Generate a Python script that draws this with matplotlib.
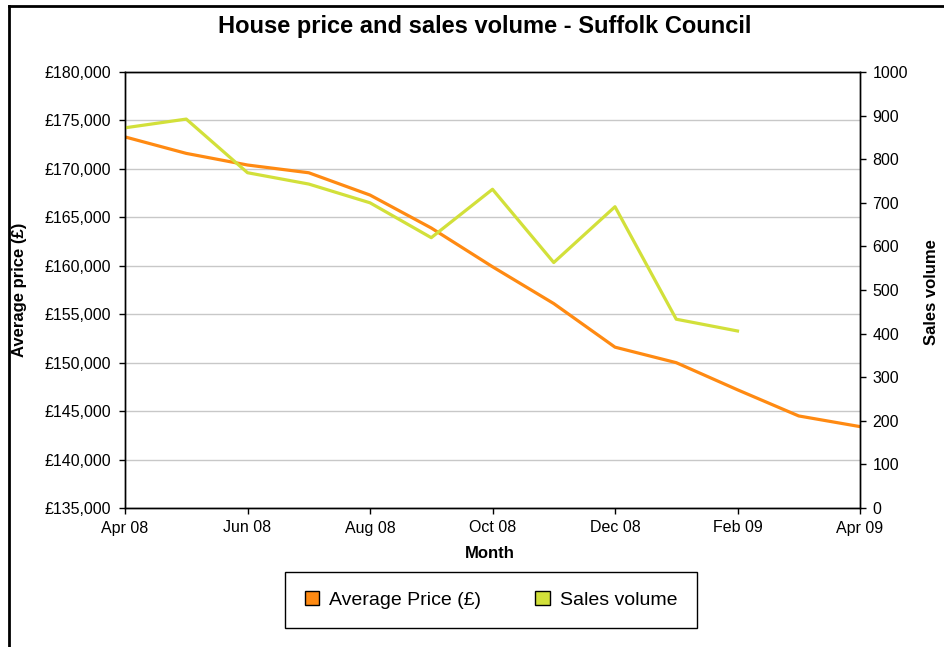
import matplotlib
matplotlib.use("Agg")
import matplotlib.pyplot as plt
from matplotlib.patches import Patch
from matplotlib.ticker import FuncFormatter, MultipleLocator

plt.rcParams["font.family"] = ["Liberation Sans", "DejaVu Sans"]

# Данные графика
months = ["Apr 08", "May 08", "Jun 08", "Jul 08", "Aug 08", "Sep 08", "Oct 08",
          "Nov 08", "Dec 08", "Jan 09", "Feb 09", "Mar 09", "Apr 09"]
avg_price = [173300, 171600, 170400, 169600, 167300, 163900, 159900,
             156100, 151600, 150000, 147200, 144500, 143400]
sales_volume = [872, 892, 769, 743, 700, 620, 731, 563, 691, 433, 406]
tick_labels = months[::2]

ORANGE = "#ff8a12"
GREEN = "#d2e03a"

W, H = 944, 647
fig = plt.figure(figsize=(W / 100, H / 100), dpi=100)
ax = fig.add_axes([125 / W, 1 - 508 / H, 735 / W, 436 / H])
ax2 = ax.twinx()

x = list(range(len(months)))
ax.plot(x, avg_price, color=ORANGE, lw=2.3)
ax2.plot(x[:len(sales_volume)], sales_volume, color=GREEN, lw=2.3)

ax.set_xlim(0, len(months) - 1)
ax.set_ylim(135000, 180000)
ax2.set_ylim(0, 1000)

ax.yaxis.set_major_locator(MultipleLocator(5000))
ax.yaxis.set_major_formatter(FuncFormatter(lambda v, p: f"£{int(v):,}"))
ax2.yaxis.set_major_locator(MultipleLocator(100))
ax.set_xticks(x[::2])
ax.set_xticklabels(tick_labels)

ax.grid(axis="y", color="#c8c8c8", lw=1)
ax.set_axisbelow(True)

for a in (ax, ax2):
    for s in a.spines.values():
        s.set_color("black")
        s.set_linewidth(1)
    a.tick_params(direction="out", length=4, width=1, labelsize=11.5,
                  colors="black", pad=3)
ax.tick_params(axis="y", pad=6)
ax.tick_params(axis="x", pad=5)
ax2.tick_params(axis="y", pad=5)

# подписи осей
fig.text(490 / W, 1 - 553 / H, "Month", ha="center", va="center",
         fontsize=12, fontweight="bold")
fig.text(20 / W, 1 - 290 / H, "Average price (£)", ha="center", va="center",
         rotation=90, fontsize=12, fontweight="bold")
fig.text(931 / W, 1 - 292 / H, "Sales volume", ha="center", va="center",
         rotation=90, fontsize=12, fontweight="bold")

fig.text(485 / W, 1 - 26 / H, "House price and sales volume - Suffolk Council",
         ha="center", va="center", fontsize=17, fontweight="bold")

handles = [Patch(facecolor=ORANGE, edgecolor="black", lw=1, label="Average Price (£)"),
           Patch(facecolor=GREEN, edgecolor="black", lw=1, label="Sales volume")]
leg = fig.legend(handles=handles, ncol=2, loc="center",
                 bbox_to_anchor=(491 / W, 1 - 600 / H), fontsize=14,
                 fancybox=False, edgecolor="black", framealpha=1,
                 handlelength=0.75, handleheight=0.75, handletextpad=0.5,
                 columnspacing=2.8, borderpad=1.0, borderaxespad=0)
leg.get_frame().set_linewidth(1)

# рамка вокруг картинки
fig.add_artist(plt.Line2D([9 / W, 9 / W], [0, 1 - 6 / H], color="black",
                          lw=2, transform=fig.transFigure))
fig.add_artist(plt.Line2D([9 / W, 1], [1 - 6 / H, 1 - 6 / H], color="black",
                          lw=2, transform=fig.transFigure))

fig.savefig("out.png", dpi=100)
